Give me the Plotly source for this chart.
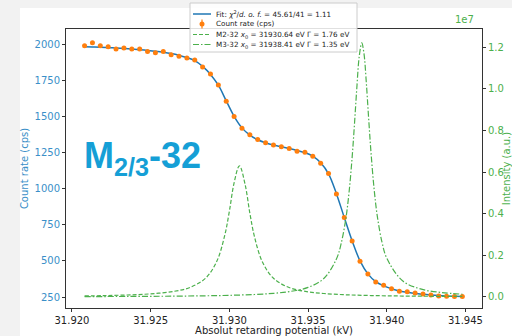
import plotly.graph_objects as go

# --- data ---
x_kv = [31.9208, 31.9213, 31.9218, 31.9223, 31.9228, 31.9233, 31.9238, 31.9243, 31.9248, 31.9253,
        31.9258, 31.9263, 31.9268, 31.9273, 31.9278, 31.9283, 31.9288, 31.9293, 31.9298, 31.9303,
        31.9308, 31.9313, 31.9318, 31.9323, 31.9328, 31.9333, 31.9338, 31.9343, 31.9348, 31.9353,
        31.9358, 31.9363, 31.9368, 31.9373, 31.9378, 31.9383, 31.9388, 31.9393, 31.9398, 31.9403,
        31.9408, 31.9413, 31.9418, 31.9423, 31.9428, 31.9433, 31.9438, 31.9443, 31.9448]
count_rate = [1988, 2009, 1988, 1981, 1965, 1972, 1965, 1965, 1949, 1940,
              1949, 1926, 1915, 1903, 1889, 1841, 1792, 1716, 1605, 1499,
              1418, 1372, 1339, 1317, 1302, 1290, 1278, 1258, 1252, 1224,
              1176, 1105, 963, 800, 638, 497, 410, 354, 331, 308,
              290, 287, 278, 271, 264, 257, 255, 253, 253]
fit_rate = [1982, 1980, 1978, 1975, 1972, 1969, 1965, 1961, 1956, 1950,
            1943, 1934, 1922, 1907, 1885, 1845, 1790, 1715, 1607, 1500,
            1420, 1370, 1338, 1317, 1301, 1289, 1277, 1264, 1249, 1225,
            1178, 1102, 965, 800, 638, 500, 410, 356, 327, 307,
            292, 283, 275, 269, 264, 260, 257, 255, 253]

m2_x = [31.9208, 31.9220, 31.9235, 31.9250, 31.9265, 31.9275, 31.9285, 31.9292, 31.9297, 31.9300,
        31.9303, 31.93064, 31.9310, 31.9313, 31.9316, 31.9321, 31.9328, 31.9338, 31.9350, 31.9360,
        31.9374, 31.9390, 31.9410, 31.9435, 31.9448]
m2_int = [0.0050, 0.00647, 0.00943, 0.01497, 0.0272, 0.0459, 0.0911, 0.1713, 0.2943, 0.412,
          0.548, 0.630, 0.540, 0.403, 0.2877, 0.1679, 0.0897, 0.0453, 0.02466, 0.01654,
          0.0105, 0.0069, 0.00451, 0.00294, 0.00242]

m3_x = [31.9208, 31.9235, 31.9265, 31.9285, 31.9300, 31.9316, 31.9328, 31.9338, 31.9350, 31.9360,
        31.9368, 31.9371, 31.9374, 31.9376, 31.9378, 31.93795, 31.9381, 31.93825, 31.93841, 31.93855,
        31.9387, 31.93885, 31.9390, 31.9392, 31.9394, 31.9397, 31.9400, 31.9410, 31.9422, 31.9435, 31.9448]
m3_int = [0.00179, 0.00249, 0.00391, 0.00563, 0.00781, 0.01187, 0.01741, 0.0256, 0.046, 0.0887,
          0.1824, 0.256, 0.3767, 0.500, 0.6716, 0.833, 1.0074, 1.155, 1.220, 1.170,
          1.0298, 0.856, 0.6916, 0.515, 0.3872, 0.262, 0.1863, 0.0776, 0.0375, 0.02108, 0.01346]

x_ticks = [31.920, 31.925, 31.930, 31.935, 31.940, 31.945]
y_ticks = [250, 500, 750, 1000, 1250, 1500, 1750, 2000]
y2_ticks = [0.0, 0.2, 0.4, 0.6, 0.8, 1.0, 1.2]

legend_labels = [
    "Fit: <i>χ</i><sup>2</sup>/<i>d. o. f.</i> = 45.61/41 = 1.11",
    "Count rate (cps)",
    "M2-32 <i>x</i><sub>0</sub> = 31930.64 eV Γ = 1.76 eV",
    "M3-32 <i>x</i><sub>0</sub> = 31938.41 eV Γ = 1.35 eV",
]

BLUE = "#1f77b4"
ORANGE = "#ff7f0e"
LBLUE = "#3a8fc8"
LGREEN = "#4cb04c"
FONT = "DejaVu Sans"
M2_DASH = "4px,2px"
M3_DASH = "6px,2px,1.5px,2px"

# geometry helpers (figure pixel -> paper coords); plot area 66..482 x 29..308
L, R, T, B = 66, 482, 29, 308
def px(xp):
    return (xp - L) / (R - L)
def py(yp):
    return 1 + (T - yp) / (B - T)

fig = go.Figure()
fig.add_trace(go.Scatter(
    x=x_kv, y=fit_rate, mode="lines", line=dict(color=BLUE, width=1.5, shape="spline"),
    name=legend_labels[0], yaxis="y"))
fig.add_trace(go.Scatter(
    x=x_kv, y=count_rate, mode="markers", marker=dict(color=ORANGE, size=5),
    name=legend_labels[1], yaxis="y"))
fig.add_trace(go.Scatter(
    x=m2_x, y=m2_int, mode="lines", line=dict(color=LGREEN, width=1.2, dash=M2_DASH, shape="spline"),
    name=legend_labels[2], yaxis="y2"))
fig.add_trace(go.Scatter(
    x=m3_x, y=m3_int, mode="lines", line=dict(color=LGREEN, width=1.2, dash=M3_DASH, shape="spline"),
    name=legend_labels[3], yaxis="y2"))

# custom compact legend (matplotlib style)
rows = [14, 24, 34.5, 44.5]
shapes = [
    dict(type="rect", xref="paper", yref="paper", x0=-0.1106, x1=1.08, y0=-0.11, y1=1.075,
         fillcolor="white", line=dict(width=0), layer="below"),
    dict(type="rect", xref="paper", yref="paper", x0=px(190), x1=px(357), y0=py(52), y1=py(3),
         fillcolor="rgba(255,255,255,0.85)", line=dict(color="#cccccc", width=1), layer="above"),
    dict(type="line", xref="paper", yref="paper", x0=px(193), x1=px(211), y0=py(rows[0]), y1=py(rows[0]),
         line=dict(color=BLUE, width=1.5), layer="above"),
    dict(type="line", xref="paper", yref="paper", x0=px(202), x1=px(202), y0=py(rows[1] - 4.5), y1=py(rows[1] + 4.5),
         line=dict(color=ORANGE, width=1.2), layer="above"),
    dict(type="circle", xref="paper", yref="paper", x0=px(199.5), x1=px(204.5), y0=py(rows[1] - 2.5), y1=py(rows[1] + 2.5),
         fillcolor=ORANGE, line=dict(color=ORANGE, width=0), layer="above"),
    dict(type="line", xref="paper", yref="paper", x0=px(193), x1=px(211), y0=py(rows[2]), y1=py(rows[2]),
         line=dict(color=LGREEN, width=1.2, dash=M2_DASH), layer="above"),
    dict(type="line", xref="paper", yref="paper", x0=px(193), x1=px(211), y0=py(rows[3]), y1=py(rows[3]),
         line=dict(color=LGREEN, width=1.2, dash=M3_DASH), layer="above"),
]
annotations = [
    dict(text=lbl, xref="paper", yref="paper", x=px(214), y=py(r), xanchor="left", yanchor="middle",
         showarrow=False, font=dict(size=7.2, color="#222", family=FONT))
    for lbl, r in zip(legend_labels, rows)
]
annotations += [
    dict(text="1e7", xref="paper", yref="paper", x=px(476), y=py(27), xanchor="right", yanchor="bottom",
         showarrow=False, font=dict(size=10, color=LGREEN, family=FONT)),
    dict(text="<b>M<sub>2/3</sub>-32</b>", xref="paper", yref="paper", x=px(82), y=py(158),
         xanchor="left", yanchor="middle", showarrow=False,
         font=dict(size=36, color="#159fd6", family="Liberation Sans")),
]

fig.update_layout(
    width=512, height=336,
    margin=dict(l=L, r=512 - R, t=T, b=336 - B, autoexpand=False),
    paper_bgcolor="#f2f2f2",
    plot_bgcolor="white",
    font=dict(family=FONT, size=10, color="#222"),
    showlegend=False,
    xaxis=dict(range=[31.91962, 31.94605], tickvals=x_ticks, ticktext=[f"{v:.3f}" for v in x_ticks],
               showgrid=False, zeroline=False, showline=True, linecolor="#333", linewidth=1,
               mirror=True, ticks="outside", ticklen=3, tickcolor="#333",
               tickfont=dict(size=10, color="#222"),
               title=dict(text="Absolut retarding potential (kV)", font=dict(size=10, color="#222"), standoff=2),
               automargin=False),
    yaxis=dict(range=[174, 2104], tickvals=y_ticks, showgrid=False, zeroline=False,
               showline=True, linecolor="#333", linewidth=1, ticks="outside", ticklen=3,
               tickcolor="#333", tickfont=dict(size=10, color=LBLUE),
               title=dict(text="Count rate (cps)", font=dict(size=10, color=LBLUE), standoff=4),
               automargin=False),
    yaxis2=dict(range=[-0.053, 1.287], tickvals=y2_ticks, ticktext=[f"{v:.1f}" for v in y2_ticks],
                overlaying="y", side="right", showgrid=False, zeroline=False,
                showline=True, linecolor="#333", linewidth=1, ticks="outside", ticklen=3,
                tickcolor="#333", tickfont=dict(size=10, color=LGREEN),
                title=dict(text="Intensity (a.u.)", font=dict(size=10, color=LGREEN), standoff=9),
                automargin=False),
    shapes=shapes,
    annotations=annotations,
)

fig.write_html("out.html", config={"displayModeBar": False},
               post_script="document.body.style.margin='0';")
